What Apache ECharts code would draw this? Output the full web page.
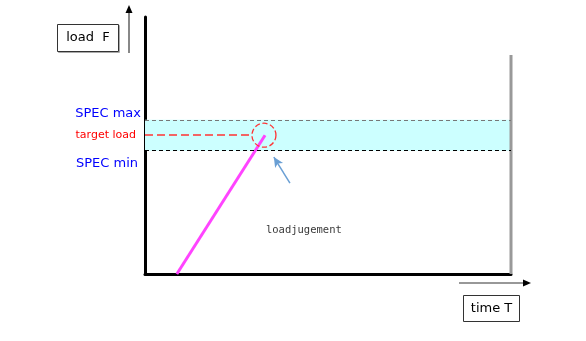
<!DOCTYPE html>
<html><head><meta charset="utf-8">
<script src="https://cdn.jsdelivr.net/npm/echarts@6/dist/echarts.min.js"></script>
<style>html,body{margin:0;padding:0;background:#fff}#c{width:586px;height:341px}</style>
</head><body><div id="c"></div>
<script>
// chart values
const specMax = 60;
const specMin = 48;
const targetLoad = 54;
const targetLineEndX = 29.2;
const loadCurveX = [8.7, 32.8];
const loadCurveY = [0, 54];
const judgePoint = [32.5, 54];
const judgeArrowFrom = [39.6, 35.4];
const judgeArrowTo = [35.2, 45.5];
const judgeTextPos = [43.4, 17.1];
const rightLimitX = 100;
const rightLimitTop = 85.2;
const labels = { max: 'SPEC max', min: 'SPEC min', target: 'target load', judge: 'loadjugement', yName: 'load  F', xName: 'time T' };

const chart = echarts.init(document.getElementById('c'), null, { renderer: 'canvas' });
const font = 'DejaVu Sans';
const option = {
  animation: false,
  backgroundColor: '#fff',
  grid: { left: 145, right: 75, top: 17, bottom: 67 },
  xAxis: {
    type: 'value', min: 0, max: 100,
    axisLine: { show: true, onZero: false, lineStyle: { color: '#000', width: 3 } },
    axisTick: { show: false }, axisLabel: { show: false }, splitLine: { show: false }
  },
  yAxis: {
    type: 'value', min: 0, max: 100,
    axisLine: { show: true, onZero: false, lineStyle: { color: '#000', width: 3 } },
    axisTick: { show: false }, axisLabel: { show: false }, splitLine: { show: false }
  },
  series: [
    {
      type: 'line', z: 1, symbol: 'none', silent: true,
      data: [],
      markArea: {
        silent: true,
        itemStyle: { color: '#ccffff', opacity: 1 },
        data: [[{ yAxis: specMin }, { yAxis: specMax }]]
      },
      markLine: {
        silent: true, symbol: ['none', 'none'],
        data: [
          { yAxis: specMax, lineStyle: { color: '#777', type: [4, 3], width: 1 },
            label: { show: true, position: 'start', formatter: labels.max, color: '#0000ff', fontFamily: font, fontSize: 13, offset: [0, -6], distance: 4 } },
          { yAxis: specMin, lineStyle: { color: '#000', type: [4, 3], width: 1 },
            label: { show: true, position: 'start', formatter: labels.min, color: '#0000ff', fontFamily: font, fontSize: 13, offset: [0, 13], distance: 7 } },
          [
            { coord: [0, targetLoad], lineStyle: { color: '#ff3333', type: [8, 4], width: 1.5 },
              label: { show: true, position: 'start', formatter: labels.target, color: '#ff0000', fontFamily: font, fontSize: 11, distance: 9 } },
            { coord: [targetLineEndX, targetLoad] }
          ]
        ]
      }
    },
    {
      type: 'line', z: 3, symbol: 'none', silent: true,
      lineStyle: { color: '#ff44ff', width: 3 },
      data: loadCurveX.map((x, i) => [x, loadCurveY[i]])
    },
    {
      type: 'line', z: 3, symbol: 'none', silent: true,
      lineStyle: { color: '#999', width: 3 },
      data: [[rightLimitX, 0], [rightLimitX, rightLimitTop]]
    },
    {
      type: 'scatter', z: 4, silent: true,
      symbol: 'circle', symbolSize: 24,
      itemStyle: { color: 'transparent', opacity: 1, borderColor: '#ff3333', borderWidth: 1.3, borderType: 'dashed' },
      emphasis: { disabled: true },
      data: [judgePoint],
      markLine: {
        silent: true, symbol: ['none', 'arrow'], symbolSize: [7, 10],
        lineStyle: { color: '#6a9fd4', width: 1.5, type: 'solid' },
        label: { show: false },
        data: [[{ coord: judgeArrowFrom }, { coord: judgeArrowTo }]]
      }
    },
    {
      type: 'scatter', z: 4, silent: true, symbolSize: 0,
      data: [judgeTextPos],
      label: { show: true, position: 'inside', formatter: labels.judge, color: '#000', fontFamily: 'DejaVu Sans Mono', fontSize: 10.5 }
    }
  ],
  graphic: [
    { type: 'rect', shape: { x: 58.5, y: 25.5, width: 61, height: 27 }, style: { fill: 'none', stroke: '#aaa', lineWidth: 1 } },
    { type: 'rect', shape: { x: 57.5, y: 24.5, width: 61, height: 27 }, style: { fill: '#fff', stroke: '#333', lineWidth: 1 } },
    { type: 'text', x: 88, y: 38, style: { text: labels.yName, font: '13px "DejaVu Sans"', fill: '#000', align: 'center', verticalAlign: 'middle' } },
    { type: 'line', shape: { x1: 129, y1: 53, x2: 129, y2: 12 }, style: { stroke: '#888', lineWidth: 2 } },
    { type: 'polygon', shape: { points: [[129, 5], [125.5, 13], [132.5, 13]] }, style: { fill: '#000' } },
    { type: 'line', shape: { x1: 459, y1: 283, x2: 525, y2: 283 }, style: { stroke: '#333', lineWidth: 1.2 } },
    { type: 'polygon', shape: { points: [[531, 283], [523, 279.5], [523, 286.5]] }, style: { fill: '#000' } },
    { type: 'rect', shape: { x: 463.5, y: 295.5, width: 56, height: 26 }, style: { fill: '#fff', stroke: '#333', lineWidth: 1 } },
    { type: 'text', x: 491.5, y: 308.5, style: { text: labels.xName, font: '13px "DejaVu Sans"', fill: '#000', align: 'center', verticalAlign: 'middle' } }
  ]
};
chart.setOption(option);
</script>
</body></html>
